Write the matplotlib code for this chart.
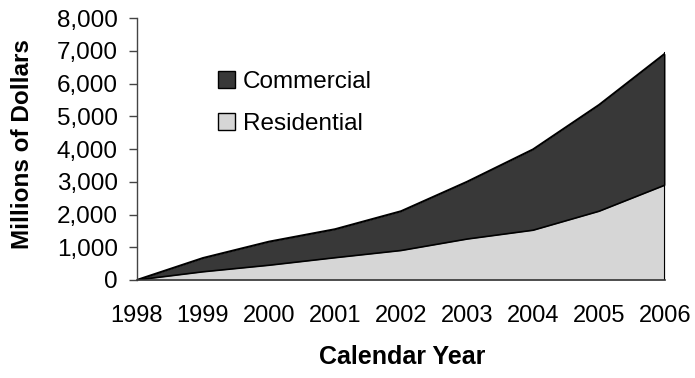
import matplotlib
matplotlib.use("Agg")
import matplotlib.pyplot as plt
from matplotlib.patches import Patch
from matplotlib.ticker import FuncFormatter
import numpy as np

years = [1998, 1999, 2000, 2001, 2002, 2003, 2004, 2005, 2006]
residential = [0, 250, 450, 680, 900, 1250, 1520, 2100, 2900]
commercial = [0, 420, 720, 870, 1200, 1750, 2470, 3250, 4020]

plt.rcParams['font.family'] = ['Liberation Sans', 'DejaVu Sans']

fig = plt.figure(figsize=(6.95, 3.78), dpi=100)
ax = fig.add_axes([0.197, 0.2593, 0.76, 0.6927])

x = np.arange(len(years))
res = np.array(residential)
tot = res + np.array(commercial)

dark = '#383838'
light = '#d6d6d6'
ax.fill_between(x, 0, res, color=light, lw=0)
ax.fill_between(x, res, tot, color=dark, lw=0)
ax.plot(x, res, color='black', lw=1.2)
ax.plot(x, tot, color='black', lw=1.5)
ax.plot([x[-1], x[-1]], [0, tot[-1]], color='black', lw=1.5)

ax.set_xlim(0, len(years) - 1)
ax.set_ylim(0, 8000)
ax.set_yticks(np.arange(0, 8001, 1000))
ax.yaxis.set_major_formatter(FuncFormatter(lambda v, p: f"{int(v):,}"))
ax.set_xticks(x)
ax.set_xticklabels([str(y) for y in years])

for s in ['top', 'right']:
    ax.spines[s].set_visible(False)
ax.spines['left'].set_color('#444444')
ax.spines['bottom'].set_color('#333333')
ax.spines['left'].set_linewidth(1.0)
ax.spines['bottom'].set_linewidth(1.2)

ax.tick_params(axis='y', length=5.8, width=1.0, color='#444444', labelsize=17.5, pad=8)
ax.tick_params(axis='x', length=0, labelsize=17, pad=18)

fig.text(23 / 695, 1 - 144 / 378, 'Millions of Dollars', rotation=90,
         ha='center', va='center', fontsize=17.5, fontweight='bold')
fig.text(402 / 695, 1 - 357 / 378, 'Calendar Year',
         ha='center', va='center', fontsize=18, fontweight='bold')

handles = [Patch(facecolor=dark, edgecolor='black', lw=1.0, label='Commercial'),
           Patch(facecolor=light, edgecolor='black', lw=1.0, label='Residential')]
ax.legend(handles=handles, loc='upper left', bbox_to_anchor=(0.153, 0.80),
          frameon=False, fontsize=17.5, handlelength=0.72, handleheight=0.72,
          handletextpad=0.3, labelspacing=0.82, borderpad=0, borderaxespad=0)

fig.savefig('out.png', dpi=100)
